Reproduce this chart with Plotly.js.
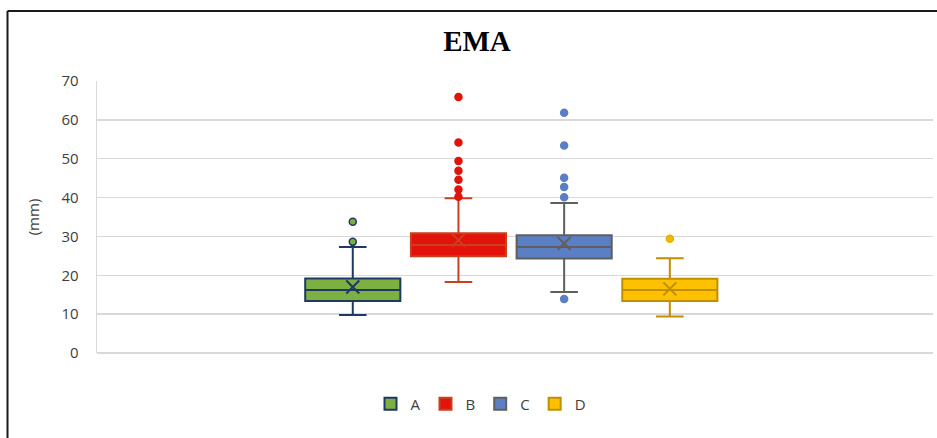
<!DOCTYPE html>
<html>
<head>
<meta charset="utf-8">
<script src="https://cdn.plot.ly/plotly-3.0.1.min.js"></script>
<style>html,body{margin:0;padding:0;background:#fff;overflow:hidden}#chart{width:937px;height:438px}</style>
</head>
<body>
<div id="chart"></div>
<script>
// Data
const categories = ['A', 'B', 'C', 'D'];
const lowerWhisker = [9.8, 18.3, 15.7, 9.4];
const q1Values = [13.4, 24.9, 24.3, 13.4];
const medianValues = [16.2, 27.8, 27.3, 16.2];
const q3Values = [19.2, 30.8, 30.3, 19.1];
const upperWhisker = [27.3, 39.8, 38.6, 24.4];
const meanValues = [17.0, 29.0, 28.2, 16.5];
const outliersA = [28.6, 33.8];
const outliersB = [40.2, 42.1, 44.6, 46.9, 49.4, 54.2, 65.9];
const outliersC = [13.9, 40.1, 42.7, 45.1, 53.4, 61.8];
const outliersD = [29.4];
const outliers = [outliersA, outliersB, outliersC, outliersD];
const yTicks = [0, 10, 20, 30, 40, 50, 60, 70];

// Styles
const fills = ['#7cb142', '#e3120b', '#5b7fc5', '#fdc100'];
const lines = ['#1f3864', '#c8401e', '#5f5f5f', '#bf8f00'];
const markerFills = ['#7cb142', '#e0140c', '#5b7fc5', '#f2b800'];
const markerLines = ['#1f3864', '#e0140c', '#5b7fc5', '#e8b000'];

const traces = [];
categories.forEach((c, i) => {
  traces.push({
    type: 'box', name: c, x: [i],
    q1: [q1Values[i]], median: [medianValues[i]], q3: [q3Values[i]],
    lowerfence: [lowerWhisker[i]], upperfence: [upperWhisker[i]],
    width: 0.9, whiskerwidth: 0.29,
    fillcolor: fills[i], line: {color: lines[i], width: 2},
    boxpoints: false, hoverinfo: 'skip'
  });
});
categories.forEach((c, i) => {
  traces.push({
    type: 'scatter', mode: 'markers', showlegend: false,
    x: outliers[i].map(() => i), y: outliers[i],
    marker: {size: 7, color: markerFills[i], line: {color: markerLines[i], width: 1.5}},
    hoverinfo: 'skip'
  });
  traces.push({
    type: 'scatter', mode: 'markers', showlegend: false,
    x: [i], y: [meanValues[i]],
    marker: {symbol: 'x-thin', size: 13, color: lines[i], line: {color: lines[i], width: 2}},
    hoverinfo: 'skip'
  });
});

const L = 97, R = 4, T = 81, B = 85;
const W = 937, H = 438;
const pw = W - L - R, ph = H - T - B;
const fx = px => (px - L) / pw;
const fy = py => 1 - (py - T) / ph;

const layout = {
  width: W, height: H,
  margin: {l: L, r: R, t: T, b: B},
  paper_bgcolor: '#ffffff', plot_bgcolor: '#ffffff',
  font: {family: '"Open Sans", Lato, sans-serif', color: '#404040', size: 15},
  title: {
    text: '<b>EMA</b>', xref: 'container', x: 477 / 937, xanchor: 'center',
    yref: 'container', y: 1 - 41 / 438, yanchor: 'middle',
    font: {family: '"Liberation Serif", "Times New Roman", serif', size: 29, color: '#000000'}
  },
  xaxis: {
    range: [-2.42, 5.49], showgrid: false, zeroline: false, showticklabels: false,
    ticks: '', showline: false, fixedrange: true
  },
  yaxis: {
    range: [0, 70], tickvals: yTicks, ticktext: yTicks.map(String),
    showgrid: true, gridcolor: '#d9d9d9', gridwidth: 1.3,
    zeroline: true, zerolinecolor: '#d9d9d9', zerolinewidth: 1.3,
    showline: true, linecolor: '#d9d9d9', linewidth: 1.3,
    ticks: '', ticklabelstandoff: 14,
    tickfont: {size: 15, color: '#404040'},
    title: {text: '(mm)', standoff: 18, font: {size: 15, color: '#404040'}},
    automargin: false, fixedrange: true
  },
  showlegend: true,
  legend: {
    orientation: 'h', xref: 'container', yref: 'container',
    x: 481 / 937, xanchor: 'center', y: 1 - 404 / 438, yanchor: 'middle',
    font: {size: 15, color: '#404040'}, itemwidth: 30, traceorder: 'normal'
  },
  shapes: [
    {type: 'line', xref: 'paper', yref: 'paper', x0: fx(7.5), x1: fx(7.5), y0: fy(11), y1: fy(460),
     line: {color: '#1a1a1a', width: 2}},
    {type: 'line', xref: 'paper', yref: 'paper', x0: fx(7.5), x1: fx(960), y0: fy(11), y1: fy(11),
     line: {color: '#1a1a1a', width: 2}}
  ]
};

Plotly.newPlot('chart', traces, layout, {staticPlot: true, displayModeBar: false});
</script>
</body>
</html>
